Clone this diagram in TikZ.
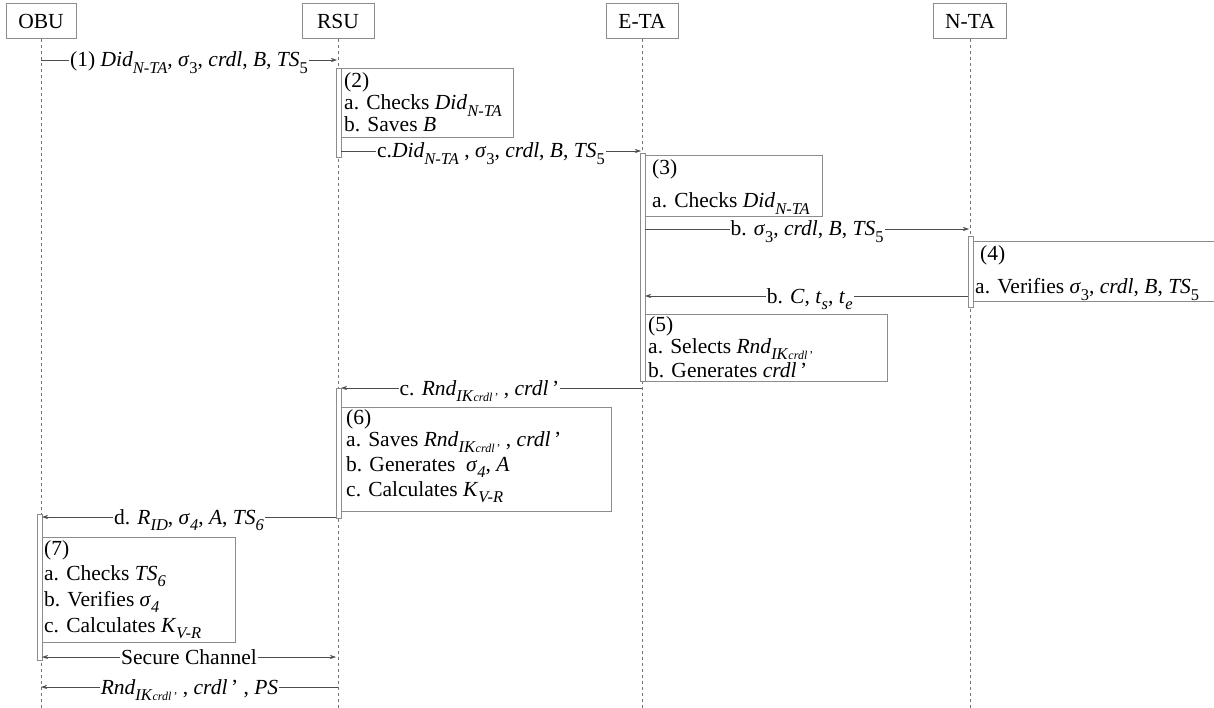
\documentclass[tikz,border=0pt]{standalone}
\usepackage{fontspec}
\setmainfont{Liberation Serif}
\usetikzlibrary{arrows.meta}
\newcommand\sbs[1]{\raisebox{-0.28em}{\fontsize{16.5}{17}\selectfont #1}}
\newcommand\DidNTA{\textit{Did}\sbs{\textit{N-TA}}}
\newcommand\sigu[1]{\textit{σ}\sbs{#1}}
\newcommand\sigi[1]{\textit{σ}\sbs{\textit{#1}}}
\newcommand\TSu[1]{\textit{TS}\sbs{#1}}
\newcommand\TSi[1]{\textit{TS}\sbs{\textit{#1}}}
\newcommand\RndIK{\textit{Rnd}\sbs{\textit{IK}{\fontsize{12}{12}\selectfont\textit{crdl}\,’}}}
\newcommand\crdlp{\textit{crdl}\,’}
\newcommand\KVR{\textit{K}\sbs{\textit{V-R}}}
\begin{document}
\begin{tikzpicture}[x=1pt,y=-1pt,font=\fontsize{21.5}{24}\selectfont,
  head/.style={draw=black!45, fill=white, minimum height=35, inner sep=0},
  life/.style={draw=black!55, dash pattern=on 3pt off 3pt, line width=0.6pt},
  act/.style={draw=black!45, fill=white, minimum width=5, inner sep=0, anchor=north, line width=0.6pt},
  box/.style={draw=black!45, anchor=north west, inner sep=0, line width=0.6pt},
  msg/.style={draw=black!70, line width=0.6pt, -{Stealth[length=6pt,width=4pt]}},
  bmsg/.style={draw=black!70, line width=0.6pt, {Stealth[length=6pt,width=4pt]}-{Stealth[length=6pt,width=4pt]}},
  lbl/.style={fill=white, inner sep=1pt, anchor=base, yshift=-7pt},
  txt/.style={anchor=base west, inner sep=0}]
\useasboundingbox (0,0) rectangle (1214,708);
% headers
\node[head, minimum width=70] (obu) at (41,21) {OBU};
\node[head, minimum width=72] (rsu) at (338,21) {RSU};
\node[head, minimum width=72] (eta) at (642,21) {E-TA};
\node[head, minimum width=73] (nta) at (970,21) {N-TA};
\coordinate (obuE) at (41,708);
\coordinate (rsuE) at (338,708);
\coordinate (etaE) at (642,708);
\coordinate (ntaE) at (970,708);
\draw[life] (obu.south) -- (obuE);
\draw[life] (rsu.south) -- (rsuE);
\draw[life] (eta.south) -- (etaE);
\draw[life] (nta.south) -- (ntaE);
% activation bars
\node[act, minimum height=89] (ar1) at (338.5,68) {};
\node[act, minimum height=228] (ae) at (642.5,153) {};
\node[act, minimum height=71] (an) at (970.5,236) {};
\node[act, minimum height=130] (ar2) at (338.5,388) {};
\node[act, minimum height=146] (ao) at (39.5,514) {};
% boxes
\node[box, minimum width=172, minimum height=69] (b2) at (341,68) {};
\node[txt] (t2) at (344,88) {(2)};
\node[txt] (t2a) at (344,110) {a. Checks \DidNTA};
\node[txt] (t2b) at (344,132) {b. Saves \textit{B}};
\node[box, minimum width=177, minimum height=61] (b3) at (645,155) {};
\node[txt] (t3) at (652,175) {(3)};
\node[txt] (t3a) at (652,208) {a. Checks \DidNTA};
\coordinate (b4a) at (1216,241);
\coordinate (b4b) at (973,241);
\coordinate (b4c) at (973,301);
\coordinate (b4d) at (1216,301);
\draw[black!45, line width=0.6pt] (b4a) -- (b4b) -- (b4c) -- (b4d);
\node[txt] (t4) at (980,261) {(4)};
\node[txt] (t4a) at (975,294) {a. Verifies \sigu{3}, \textit{crdl}, \textit{B}, \TSu{5}};
\node[box, minimum width=242, minimum height=67] (b5) at (645,314) {};
\node[txt] (t5) at (648,331) {(5)};
\node[txt] (t5a) at (648,353) {a. Selects \RndIK};
\node[txt] (t5b) at (648,377) {b. Generates \crdlp};
\node[box, minimum width=270, minimum height=104] (b6) at (341,407) {};
\node[txt] (t6) at (346,424) {(6)};
\node[txt] (t6a) at (346,446) {a. Saves \RndIK\ , \crdlp};
\node[txt] (t6b) at (346,471) {b. Generates\ \ \sigi{4}, \textit{A}};
\node[txt] (t6c) at (346,496) {c. Calculates \KVR};
\node[box, minimum width=193, minimum height=105] (b7) at (42,537) {};
\node[txt] (t7) at (44,555) {(7)};
\node[txt] (t7a) at (44,580) {a. Checks \TSi{6}};
\node[txt] (t7b) at (44,606) {b. Verifies \sigi{4}};
\node[txt] (t7c) at (44,632) {c. Calculates \KVR};
% messages
\coordinate (m1s) at (41,60);   \coordinate (m1e) at (337,60);
\draw[msg] (m1s) -- node[lbl] (l1) {(1) \DidNTA, \sigu{3}, \textit{crdl}, \textit{B}, \TSu{5}} (m1e);
\coordinate (m2s) at (341,151); \coordinate (m2e) at (641,151);
\draw[msg] (m2s) -- node[lbl] (l2) {c.\DidNTA\ , \sigu{3}, \textit{crdl}, \textit{B}, \TSu{5}} (m2e);
\coordinate (m3s) at (645,229); \coordinate (m3e) at (969,229);
\draw[msg] (m3s) -- node[lbl] (l3) {b. \sigu{3}, \textit{crdl}, \textit{B}, \TSu{5}} (m3e);
\coordinate (m4s) at (968,296); \coordinate (m4e) at (645,296);
\draw[msg] (m4s) -- node[lbl, pos=0.49] (l4) {b. \textit{C}, \textit{t}\sbs{\textit{s}}, \textit{t}\sbs{\textit{e}}} (m4e);
\coordinate (m5s) at (642,388); \coordinate (m5e) at (341,388);
\draw[msg] (m5s) -- node[lbl, pos=0.54] (l5) {c. \RndIK\ , \crdlp\ } (m5e);
\coordinate (m6s) at (336,517); \coordinate (m6e) at (42,517);
\draw[msg] (m6s) -- node[lbl] (l6) {d. \textit{R}\sbs{\textit{ID}}, \sigi{4}, \textit{A}, \TSi{6}} (m6e);
\coordinate (m7s) at (42,657); \coordinate (m7e) at (336,657);
\draw[bmsg] (m7s) -- node[lbl] (l7) {Secure Channel} (m7e);
\coordinate (m8s) at (338,687); \coordinate (m8e) at (41,687);
\draw[msg] (m8s) -- node[lbl] (l8) {\RndIK\ , \crdlp\ , \textit{PS}} (m8e);
\end{tikzpicture}
\end{document}
